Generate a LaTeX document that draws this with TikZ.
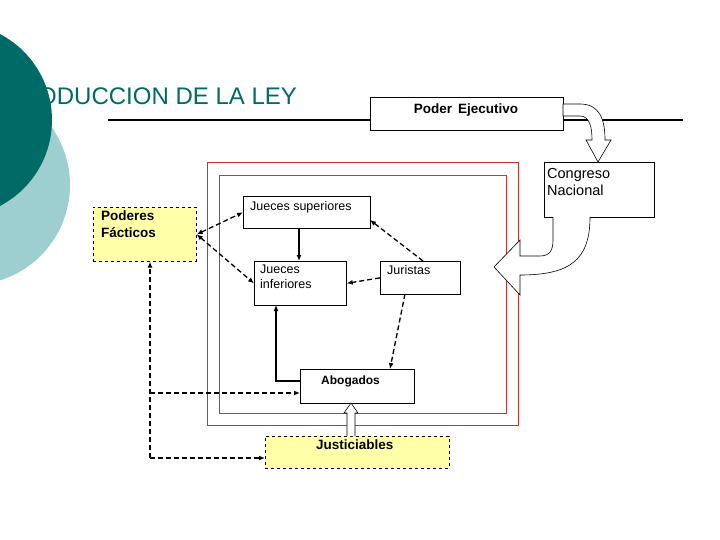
\documentclass[tikz,border=0pt]{standalone}
\usepackage{fontspec}
\setmainfont{Liberation Sans}
\usetikzlibrary{arrows.meta}
\definecolor{dteal}{HTML}{006A66}
\definecolor{lteal}{HTML}{9ECFD0}
\definecolor{yel}{HTML}{FFFFA8}
\definecolor{redl}{HTML}{D03030}
\begin{document}
\begin{tikzpicture}[x=1pt,y=-1pt,
 box/.style={draw,line width=0.7pt,anchor=north west,inner sep=0pt},
 ybox/.style={box,fill=yel,dashed},
 txt/.style={anchor=north west,align=left,inner sep=0pt,font=\fontsize{12.5}{15}\selectfont},
 da/.style={line width=1.3pt,dash pattern=on 5pt off 3pt,-{Latex[length=6pt,width=5pt]}},
 dd/.style={da,{Latex[length=6pt,width=5pt]}-{Latex[length=6pt,width=5pt]}},
 sa/.style={line width=1.3pt,-{Latex[length=6pt,width=5pt]}},
 hollow/.style={draw,line width=0.6pt,fill=white}]
\useasboundingbox (0,0) rectangle (720,540);
\fill[lteal] (-30,185) circle (100);
\fill[dteal] (-45,120) circle (97);
\node[text=dteal,font=\fontsize{24}{26}\selectfont,anchor=west,inner sep=0pt] (title) at (38,96) {ODUCCION DE LA LEY};
\coordinate (l1) at (108,120); \coordinate (l2) at (683,120);
\draw[line width=1.5pt] (l1) -- (l2);
% red frames
\draw[redl,line width=0.8pt] (207,162) rectangle (518,425);
\draw[redl,line width=0.8pt] (219,175) rectangle (506,413);
% boxes
\node[box,fill=white,minimum width=193,minimum height=33] (pe) at (370,97) {};
\node[font=\fontsize{13.5}{15}\selectfont\bfseries] at (466,110) {Poder\, Ejecutivo};
\node[box,minimum width=110,minimum height=55] (cn) at (544,162) {};
\node[txt,font=\fontsize{14.5}{17}\selectfont] at (547,168) {Congreso\\Nacional};
\node[ybox,minimum width=103,minimum height=54] (pf) at (93,207) {};
\node[txt,font=\fontsize{13.5}{17}\selectfont\bfseries] at (101,211) {Poderes\\Fácticos};
\node[box,minimum width=127,minimum height=32] (js) at (243,196) {};
\node[txt] at (250,201) {Jueces superiores};
\node[box,minimum width=92,minimum height=44] (ji) at (254,261) {};
\node[txt] at (260,265) {Jueces\\inferiores};
\node[box,minimum width=80,minimum height=33] (ju) at (380,261) {};
\node[txt] at (387,265) {Juristas};
\node[box,minimum width=114,minimum height=34] (ab) at (300,369) {};
\node[txt,font=\fontsize{12}{14}\selectfont\bfseries] at (321,376) {Abogados};
\node[ybox,minimum width=184,minimum height=32] (jt) at (265,436) {};
\node[txt,font=\fontsize{13.5}{15}\selectfont\bfseries] at (316,440) {Justiciables};
% block arrows
\draw[hollow] (563,104) -- (580,104) .. controls (600,104) and (605,120) .. (605,140) -- (611,140) -- (598,162) -- (586,140) -- (592,140) .. controls (592,128) and (590,116) .. (580,116) -- (563,116) -- cycle;
\draw[hollow] (590,217) .. controls (590,260) and (570,275) .. (520,275) -- (520,295) -- (494,267) -- (520,240) -- (520,256) -- (540,256) .. controls (550,256) and (553,250) .. (553,240) -- (553,217);
\draw[hollow] (347,436) -- (347,413) -- (344,413) -- (351,403) -- (358,413) -- (355,413) -- (355,436);
% connectors
\draw[dd] (pf.east) -- (js.west);
\draw[dd] (pf.east) -- (ji.west);
\draw[sa] (js.south -| 299,0) -- (ji.north -| 299,0);
\draw[da] (423,261) -- (370,220);
\draw[da] (ju.west) -- (ji.east);
\draw[da] (405,294) -- (390,369);
\draw[sa] (ab.west |- 0,381) -| (276,305);
\coordinate (c1) at (150,458);
\coordinate (c2) at (150,393);
\draw[da] (c1) -- (pf.south -| 150,0);
\draw[da] (c1) -- (jt.west |- c1);
\draw[da] (c2) -- (ab.west |- c2);
\end{tikzpicture}
\end{document}
